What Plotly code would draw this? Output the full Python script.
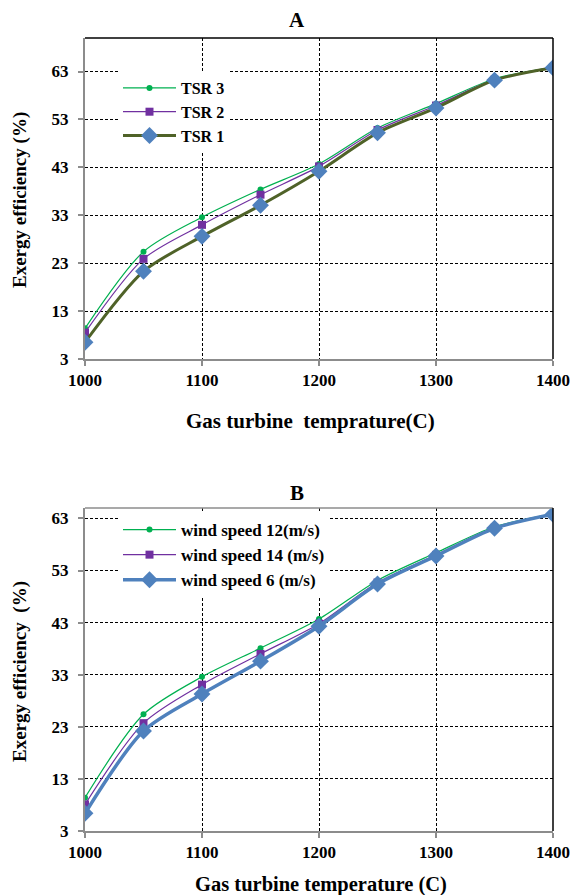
import plotly.graph_objects as go

# Gas turbine inlet temperature (C)
temps = [1000, 1050, 1100, 1150, 1200, 1250, 1300, 1350, 1400]

# Panel A: exergy efficiency (%) for three tip-speed ratios
tsr3 = [9.4, 25.4, 32.6, 38.4, 43.7, 51.2, 56.3, 61.5, 63.9]
tsr2 = [8.5, 23.9, 31.0, 37.3, 43.2, 50.8, 55.9, 61.3, 63.9]
tsr1 = [6.5, 21.3, 28.6, 35.1, 42.2, 50.2, 55.4, 61.2, 63.8]

# Panel B: exergy efficiency (%) for three wind speeds
ws12 = [9.4, 25.4, 32.6, 38.1, 43.7, 51.1, 56.4, 61.4, 63.9]
ws14 = [8.1, 23.7, 31.1, 37.0, 42.8, 50.7, 56.0, 61.2, 63.8]
ws6 = [6.4, 22.2, 29.3, 35.6, 42.3, 50.4, 55.8, 61.1, 63.8]

yticks = [3, 13, 23, 33, 43, 53, 63]
xticks = [1000, 1100, 1200, 1300, 1400]

W, H = 574, 895
FONT = "Liberation Serif"
GREEN, PURPLE, BLUE, OLIVE = "#00b050", "#7030a0", "#4f81bd", "#4f6228"


def px_x(v):
    return v / W


def px_y(v):
    return 1 - v / H


fig = go.Figure()


def add(x, y, name, color, width, symbol, size, xa, ya, legend, mcolor=None):
    fig.add_trace(go.Scatter(
        x=x, y=y, name=name, mode="lines+markers",
        line=dict(color=color, width=width, shape="spline", smoothing=0.8),
        marker=dict(symbol=symbol, size=size, color=mcolor or color),
        xaxis=xa, yaxis=ya, legend=legend,
    ))


add(temps, tsr3, "TSR 3", GREEN, 1.2, "circle", 6, "x", "y", "legend")
add(temps, tsr2, "TSR 2", PURPLE, 1.2, "square", 8, "x", "y", "legend")
add(temps, tsr1, "TSR 1", OLIVE, 3, "diamond", 13, "x", "y", "legend", BLUE)

add(temps, ws12, "wind speed 12(m/s)", GREEN, 1.2, "circle", 6, "x2", "y2", "legend2")
add(temps, ws14, "wind speed 14 (m/s)", PURPLE, 1.2, "square", 8, "x2", "y2", "legend2")
add(temps, ws6, "wind speed 6 (m/s)", BLUE, 3.5, "diamond", 13, "x2", "y2", "legend2")

tickfont = dict(family=FONT, size=17, color="black", weight="bold")
grid = dict(showgrid=True, gridcolor="black", gridwidth=1, griddash="3px,2px",
            showline=True, linecolor="#8c8c8c", linewidth=2,
            ticks="outside", ticklen=5, tickcolor="#8c8c8c", tickwidth=1.5,
            tickfont=tickfont, zeroline=False, automargin=False)

dom_x = [px_x(85), px_x(553)]
dom_a = [px_y(359), px_y(38)]
dom_b = [px_y(831), px_y(508)]

fig.update_layout(
    width=W, height=H, margin=dict(l=0, r=0, t=0, b=0, autoexpand=False),
    paper_bgcolor="white", plot_bgcolor="white", showlegend=True,
    xaxis=dict(domain=dom_x, anchor="y", range=[1000, 1400], tickvals=xticks, **grid),
    yaxis=dict(domain=dom_a, anchor="x", range=[3, 70], tickvals=yticks,
               ticklabelstandoff=6, **grid),
    xaxis2=dict(domain=dom_x, anchor="y2", range=[1000, 1400], tickvals=xticks, **grid),
    yaxis2=dict(domain=dom_b, anchor="x2", range=[3, 65], tickvals=yticks,
                ticklabelstandoff=6, **grid),
    legend=dict(x=px_x(118), y=px_y(71), xanchor="left", yanchor="top",
                bgcolor="white", tracegroupgap=0, itemwidth=53,
                font=dict(family=FONT, size=16, color="black", weight="bold")),
    legend2=dict(x=px_x(118), y=px_y(512), xanchor="left", yanchor="top",
                 bgcolor="white", tracegroupgap=0, itemwidth=53,
                 font=dict(family=FONT, size=17, color="black", weight="bold")),
)

# Frame edges: top and right of each plot area
for xa, ya, topc in (("x", "y", "black"), ("x2", "y2", "#8c8c8c")):
    fig.add_shape(type="line", xref=f"{xa} domain", yref=f"{ya} domain",
                  x0=0, x1=1, y0=1, y1=1, line=dict(color=topc, width=1.5))
    fig.add_shape(type="line", xref=f"{xa} domain", yref=f"{ya} domain",
                  x0=1, x1=1, y0=0, y1=1, line=dict(color="black", width=1.5))

bold = dict(family=FONT, color="black", weight="bold")
notes = [
    ("A", 297, 20, 21, 0),
    ("B", 297, 493, 21, 0),
    ("Gas turbine  temprature(C)", 310, 421, 21, 0),
    ("Gas turbine temperature (C)", 321, 884, 20.5, 0),
    ("Exergy efficiency (%)", 20, 200, 19, -90),
    ("Exergy efficiency  (%)", 20, 672, 19, -90),
]
for text, x, y, size, ang in notes:
    fig.add_annotation(text=text.replace("  ", " &nbsp;"), x=px_x(x), y=px_y(y),
                       xref="paper", yref="paper",
                       showarrow=False, textangle=ang, xanchor="center", yanchor="middle",
                       font=dict(size=size, **bold))

fig.write_html("out.html")
